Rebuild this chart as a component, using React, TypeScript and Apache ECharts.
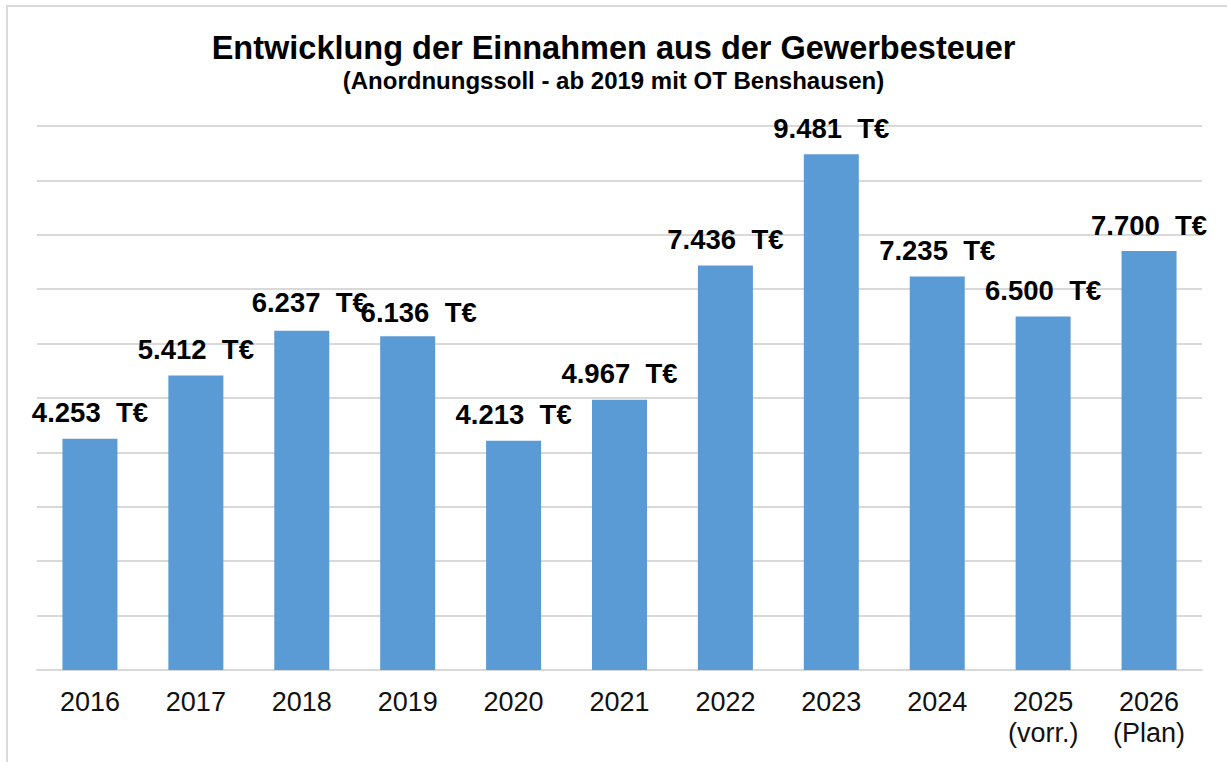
import React, { useEffect, useRef } from "react";
import * as echarts from "echarts";

const categories = ["2016", "2017", "2018", "2019", "2020", "2021", "2022", "2023", "2024", "2025\n(vorr.)", "2026\n(Plan)"];
const values = [4253, 5412, 6237, 6136, 4213, 4967, 7436, 9481, 7235, 6500, 7700];
const labelOffsets: [number, number][] = [[0, 0], [0, 0], [8, -2], [11, 2], [0, 0], [0, 0], [0, 0], [0, 0], [0, 0], [0, 0], [0, 0]];

const titleText = "Entwicklung der Einnahmen aus der Gewerbesteuer";
const subText = "(Anordnungssoll - ab 2019 mit OT Benshausen)";

function fmt(v: number): string {
  const s = String(Math.round(v));
  return s.replace(/\B(?=(\d{3})+(?!\d))/g, ".") + "  T€";
}

export default function App() {
  const ref = useRef<HTMLDivElement>(null);
  useEffect(() => {
    if (!ref.current) return;
    const chart = echarts.init(ref.current, undefined, { renderer: "svg" });
    const font = "Liberation Sans, Arial, sans-serif";
    chart.setOption({
      animation: false,
      backgroundColor: "#ffffff",
      textStyle: { fontFamily: font },
      title: {
        text: titleText,
        subtext: subText,
        left: "center",
        top: 26,
        itemGap: 4,
        textStyle: { fontFamily: font, fontSize: 32.5, fontWeight: "bold", color: "#000" },
        subtextStyle: { fontFamily: font, fontSize: 24, fontWeight: "bold", color: "#000" },
      },
      graphic: [
        {
          type: "rect",
          shape: { x: 7, y: 6, width: 1240, height: 780 },
          style: { fill: "none", stroke: "#d9d9d9", lineWidth: 2 },
          silent: true,
        },
      ],
      grid: { left: 37, right: 25, top: 126, bottom: 92, containLabel: false },
      xAxis: {
        type: "category",
        data: categories,
        axisLine: { lineStyle: { color: "#d9d9d9", width: 2 } },
        axisTick: { show: false },
        axisLabel: { color: "#111", fontSize: 27, fontFamily: font, margin: 16, lineHeight: 31 },
      },
      yAxis: {
        type: "value",
        min: 0,
        max: 10000,
        interval: 1000,
        axisLabel: { show: false },
        axisLine: { show: false },
        axisTick: { show: false },
        splitLine: { lineStyle: { color: "#d9d9d9", width: 2 } },
      },
      series: [
        {
          type: "bar",
          barWidth: 55,
          itemStyle: { color: "#5b9bd5" },
          data: values.map((v, i) => ({
            value: v,
            label: { offset: labelOffsets[i] },
          })),
          label: {
            show: true,
            position: "top",
            distance: 12,
            formatter: (p: any) => fmt(p.value),
            fontFamily: font,
            fontSize: 27.5,
            fontWeight: "bold",
            color: "#000",
          },
        },
      ],
    });
    return () => chart.dispose();
  }, []);
  return (
    <div
      ref={ref}
      style={{ position: "absolute", left: 0, top: 0, width: 1227, height: 762 }}
    />
  );
}
